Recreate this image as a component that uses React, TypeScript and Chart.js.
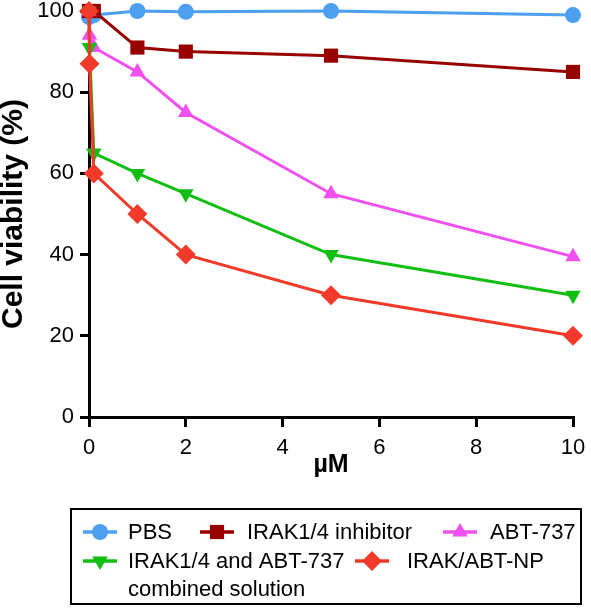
import React, { useEffect, useRef } from "react";
import { Chart, registerables } from "chart.js";

Chart.register(...registerables);

const xValues = [0, 0.01, 0.1, 1, 2, 5, 10];
const pbs = [98.5, 99, 99, 100, 99.8, 100, 99];
const irakInhibitor = [100, 100, 100, 91, 90, 89, 85];
const abt737 = [100, 94, 91, 85, 75, 55, 39.5];
const combined = [100, 91, 65, 60, 55, 40, 30];
const irakAbtNp = [100, 87, 60, 50, 40, 30, 20];

const seriesNames = ["PBS", "IRAK1/4 inhibitor", "ABT-737", "IRAK1/4 and ABT-737\ncombined solution", "IRAK/ABT-NP"];
const seriesColors = ["#4d9ff0", "#980000", "#f050f0", "#12be12", "#f23a2a"];
const seriesShapes = ["circle", "rect", "triangle", "triangleDown", "rectRot"];
const seriesRadius = [8, 10, 9, 9, 10];

const yTicks = [0, 20, 40, 60, 80, 100];
const xTicks = [0, 2, 4, 6, 8, 10];

const FONT = "'Liberation Sans', Arial, sans-serif";

function drawMarker(ctx: CanvasRenderingContext2D, shape: string, x: number, y: number, r: number, color: string) {
  ctx.save();
  ctx.fillStyle = color;
  ctx.beginPath();
  if (shape === "circle") {
    ctx.arc(x, y, r, 0, Math.PI * 2);
  } else if (shape === "rect") {
    const s = Math.SQRT1_2 * r;
    ctx.rect(x - s, y - s, 2 * s, 2 * s);
  } else if (shape === "triangle") {
    ctx.moveTo(x, y - r);
    ctx.lineTo(x + r * 0.866, y + r * 0.5);
    ctx.lineTo(x - r * 0.866, y + r * 0.5);
    ctx.closePath();
  } else if (shape === "triangleDown") {
    ctx.moveTo(x, y + r);
    ctx.lineTo(x + r * 0.866, y - r * 0.5);
    ctx.lineTo(x - r * 0.866, y - r * 0.5);
    ctx.closePath();
  } else {
    ctx.moveTo(x, y - r);
    ctx.lineTo(x + r, y);
    ctx.lineTo(x, y + r);
    ctx.lineTo(x - r, y);
    ctx.closePath();
  }
  ctx.fill();
  ctx.restore();
}

const legendPlugin = {
  id: "boxLegend",
  afterDraw(chart: any) {
    const ctx: CanvasRenderingContext2D = chart.ctx;
    ctx.save();
    ctx.strokeStyle = "#000";
    ctx.lineWidth = 2;
    ctx.strokeRect(71, 509, 510, 95);
    const entries = [
      { i: 0, mx: 100, tx: 128, y: 532 },
      { i: 1, mx: 217, tx: 247, y: 532 },
      { i: 2, mx: 460, tx: 490, y: 532 },
      { i: 3, mx: 100, tx: 128, y: 561 },
      { i: 4, mx: 372, tx: 407, y: 561 },
    ];
    ctx.font = `22px ${FONT}`;
    ctx.textBaseline = "middle";
    ctx.textAlign = "left";
    for (const e of entries) {
      const c = seriesColors[e.i];
      ctx.strokeStyle = c;
      ctx.lineWidth = 3.5;
      ctx.beginPath();
      ctx.moveTo(e.mx - 17, e.y);
      ctx.lineTo(e.mx + 17, e.y);
      ctx.stroke();
      drawMarker(ctx, seriesShapes[e.i], e.mx, e.y, seriesRadius[e.i], c);
      ctx.fillStyle = "#000";
      const lines = seriesNames[e.i].split("\n");
      lines.forEach((l, k) => ctx.fillText(l, e.tx, e.y + 1 + k * 28));
    }
    ctx.restore();
  },
};

export default function App() {
  const ref = useRef<HTMLCanvasElement | null>(null);
  useEffect(() => {
    if (!ref.current) return;
    const series = [pbs, irakInhibitor, abt737, combined, irakAbtNp];
    const datasets = series
      .map((vals, i) => ({
        label: seriesNames[i],
        data: xValues.map((x, k) => ({ x, y: vals[k] })),
        borderColor: seriesColors[i],
        backgroundColor: seriesColors[i],
        borderWidth: 3,
        pointStyle: seriesShapes[i] === "triangleDown" ? "triangle" : seriesShapes[i],
        pointRotation: seriesShapes[i] === "triangleDown" ? 180 : 0,
        pointRadius: seriesRadius[i],
        pointBorderWidth: 0,
        tension: 0,
        clip: false as any,
      }))
      .reverse();
    const chart = new Chart(ref.current, {
      type: "line",
      data: { datasets },
      plugins: [legendPlugin],
      options: {
        animation: false,
        responsive: false,
        maintainAspectRatio: false,
        layout: { padding: { top: 11, right: 18, left: 0, bottom: 0 } },
        plugins: { legend: { display: false }, tooltip: { enabled: false } },
        scales: {
          x: {
            type: "linear",
            min: 0,
            max: 10,
            afterBuildTicks: (s: any) => {
              s.ticks = xTicks.map((v) => ({ value: v }));
            },
            afterFit: (s: any) => {
              s.height = 191;
              s.paddingLeft = 0;
              s.paddingRight = 0;
            },
            grid: { display: true, drawOnChartArea: false, drawTicks: true, tickLength: 10, color: "#000", lineWidth: 3 },
            border: { display: true, color: "#000", width: 3 },
            ticks: { color: "#000", font: { family: FONT, size: 22 }, padding: 8, maxRotation: 0 },
            title: { display: true, text: "µM", color: "#000", font: { family: FONT, size: 25, weight: "bold" }, padding: { top: 0, bottom: 128 } },
          },
          y: {
            type: "linear",
            min: 0,
            max: 100,
            afterBuildTicks: (s: any) => {
              s.ticks = yTicks.map((v) => ({ value: v }));
            },
            afterFit: (s: any) => {
              s.width = 89;
              s.paddingTop = 0;
              s.paddingBottom = 0;
            },
            grid: { display: true, drawOnChartArea: false, drawTicks: true, tickLength: 9, color: "#000", lineWidth: 3 },
            border: { display: true, color: "#000", width: 3 },
            ticks: { color: "#000", font: { family: FONT, size: 22 }, padding: 6 },
            title: { display: true, text: "Cell viability (%)", color: "#000", font: { family: FONT, size: 30, weight: "bold", lineHeight: 1 }, padding: { top: -1, bottom: 0 } },
          },
        },
      } as any,
    });
    return () => chart.destroy();
  }, []);
  return (
    <div style={{ position: "fixed", left: 0, top: 0, width: 591, height: 608, background: "#fff" }}>
      <canvas ref={ref} width={591} height={608} style={{ width: 591, height: 608, display: "block" }} />
    </div>
  );
}
